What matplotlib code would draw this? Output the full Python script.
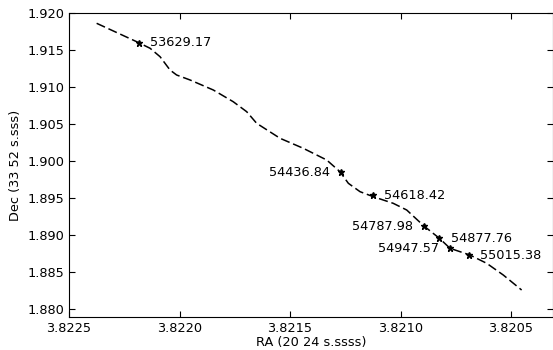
import matplotlib
matplotlib.use("Agg")
import matplotlib.pyplot as plt
from matplotlib.ticker import FormatStrFormatter, MultipleLocator

# dashed track (RA, Dec)
track_ra = [3.822375, 3.822194, 3.822133, 3.822088, 3.822043, 3.822013, 3.821952,
            3.821847, 3.821757, 3.821696, 3.821651, 3.821545, 3.821440, 3.821334,
            3.821274, 3.821236, 3.821183, 3.821123, 3.821033, 3.820972, 3.820894,
            3.820824, 3.820776, 3.820686, 3.820610, 3.820535, 3.820452]
track_dec = [1.918649, 1.916162, 1.915270, 1.914135, 1.912338, 1.911662, 1.910986,
             1.909635, 1.908054, 1.906703, 1.905135, 1.903108, 1.901757, 1.900176,
             1.898595, 1.897027, 1.895892, 1.895216, 1.894324, 1.893419, 1.891257,
             1.889595, 1.888243, 1.887338, 1.886216, 1.884635, 1.882608]

# observed positions, labelled by MJD
obs_mjd = ["53629.17", "54436.84", "54618.42", "54787.98", "54877.76", "54947.57", "55015.38"]
obs_ra = [3.822183, 3.821271, 3.821123, 3.820894, 3.820824, 3.820776, 3.820689]
obs_dec = [1.916027, 1.898514, 1.895405, 1.891257, 1.889595, 1.888243, 1.887338]
label_side = [1, -1, 1, -1, 1, -1, 1]  # 1 = text to the right, -1 = left

fs = 9.3
fig = plt.figure(figsize=(5.53, 3.5), dpi=100)
ax = fig.add_axes([0.1248, 0.0951, 0.8752, 0.8669])

ax.plot(track_ra, track_dec, color="black", linestyle="--", dashes=(6, 2.5), linewidth=1.1)
ax.plot(obs_ra, obs_dec, linestyle="none", marker="*", color="black", markersize=5)

for ra, dec, lab, side in zip(obs_ra, obs_dec, obs_mjd, label_side):
    ax.annotate(lab, (ra, dec), xytext=(8 * side, 0), textcoords="offset points",
                ha="left" if side > 0 else "right", va="center", fontsize=fs)

ax.set_xlim(3.8225, 3.82031)
ax.set_ylim(1.879, 1.920)
ax.xaxis.set_major_locator(MultipleLocator(0.0005))
ax.yaxis.set_major_locator(MultipleLocator(0.005))
ax.xaxis.set_major_formatter(FormatStrFormatter("%.4f"))
ax.yaxis.set_major_formatter(FormatStrFormatter("%.3f"))
ax.tick_params(direction="in", top=True, right=True, labelsize=fs, length=4.5)
ax.set_xlabel("RA (20 24 s.ssss)", fontsize=fs, labelpad=1)
ax.set_ylabel("Dec (33 52 s.sss)", fontsize=fs, labelpad=4)

fig.savefig("out.png", dpi=100)
